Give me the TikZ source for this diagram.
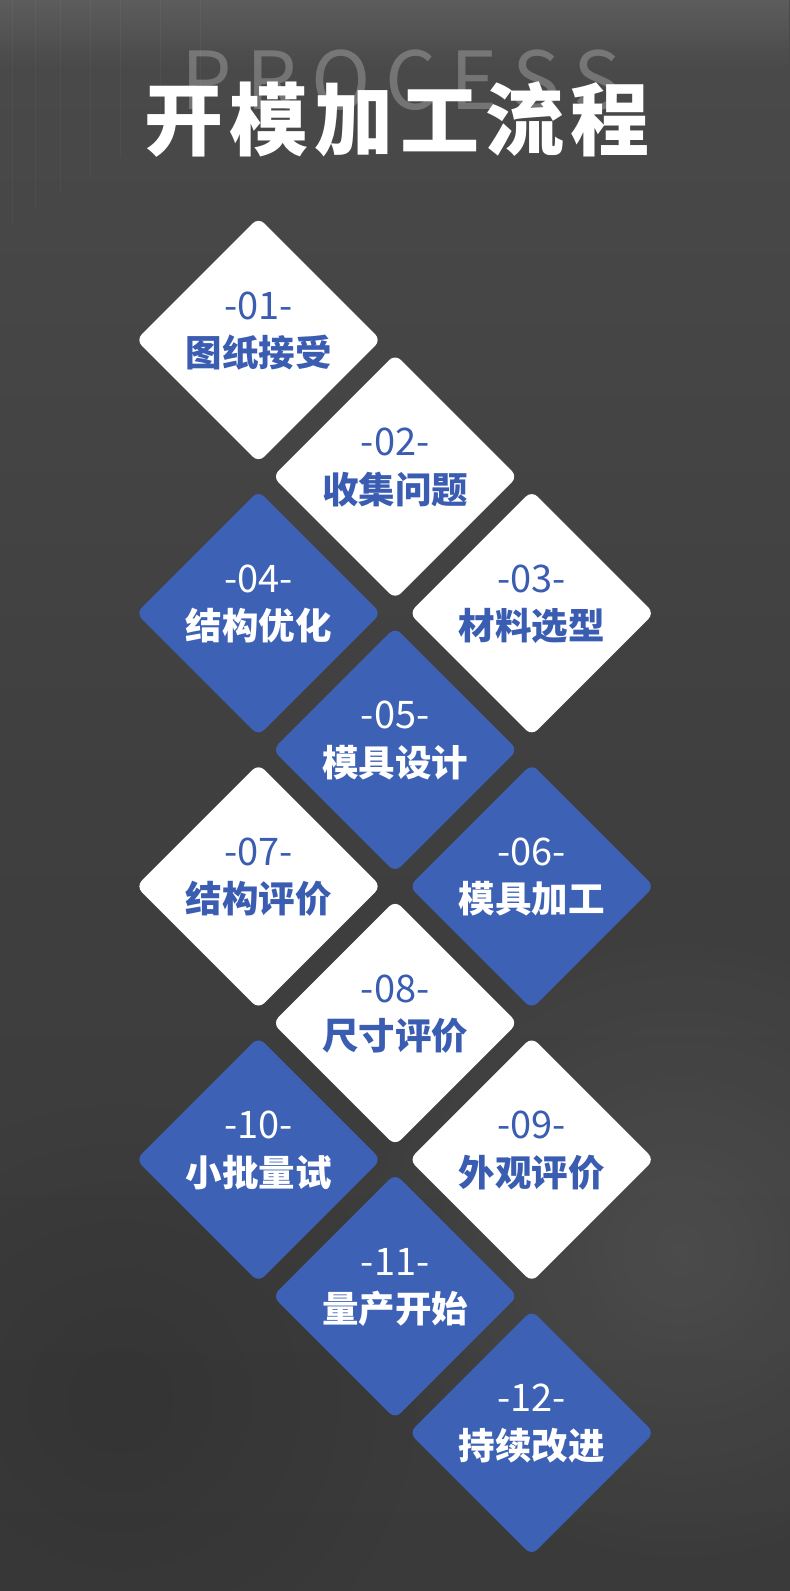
\documentclass[tikz,border=0pt]{standalone}
\usepackage{fontspec}
\newfontfamily\cjk{Noto Sans CJK SC}
\newfontfamily\cjkls[LetterSpace=8]{Noto Sans CJK SC}
\newfontfamily\procfont[LetterSpace=18]{Noto Sans CJK SC}
\usetikzlibrary{shapes.geometric,fadings}
\tikzfading[name=glowfade, inner color=transparent!0, outer color=transparent!100]
\definecolor{blueA}{HTML}{3D62B5}
\definecolor{blueT}{HTML}{3A5DB2}
\definecolor{bgT}{HTML}{4A4A4A}
\definecolor{bgM}{HTML}{3F3F3F}
\definecolor{bgB}{HTML}{3A3A3A}
\tikzset{
  dia/.style={diamond, aspect=1, minimum width=245pt, minimum height=245pt,
    inner sep=0pt, rounded corners=8pt, draw=none},
  numtxt/.style={anchor=base, inner sep=0pt, font=\cjk\fontsize{38}{38}\selectfont},
  labtxt/.style={anchor=base, inner sep=0pt, font=\cjk\bfseries\fontsize{36.5}{36.5}\selectfont},
}
\begin{document}
\begin{tikzpicture}[x=1pt,y=-1pt]
\useasboundingbox (0,0) rectangle (790,1591);
% background
\fill[top color=bgT, bottom color=bgB, middle color=bgM] (0,0) rectangle (790,1591);
\fill[white, opacity=0.08, path fading=glowfade] (680,1250) circle (330);
\fill[black, opacity=0.12, path fading=glowfade] (120,1400) circle (300);
\fill[white, opacity=0.10, path fading=south] (0,0) rectangle (790,70);
\foreach \vx in {12,35,60,90,120,160,200}{
  \draw[white, opacity=0.035, line width=1pt] (\vx,0) -- (\vx,{230-\vx*0.6});
}
% watermark and title
\node[anchor=base, inner sep=0pt, text=white, text opacity=0.24,
  font=\procfont\fontsize{80}{80}\selectfont] (proc) at (401,109) {PROCESS};
\node[anchor=base, inner sep=0pt, text=white,
  font=\cjkls\bfseries\fontsize{79}{79}\selectfont] (title) at (397,149) {开模加工流程};
% diamonds
\foreach \id/\c/\r/\fc/\tc/\lab in {
  01/0/0/white/blueT/图纸接受,
  02/1/1/white/blueT/收集问题,
  03/2/2/white/blueT/材料选型,
  04/0/2/blueA/white/结构优化,
  05/1/3/blueA/white/模具设计,
  06/2/4/blueA/white/模具加工,
  07/0/4/white/blueT/结构评价,
  08/1/5/white/blueT/尺寸评价,
  09/2/6/white/blueT/外观评价,
  10/0/6/blueA/white/小批量试,
  11/1/7/blueA/white/量产开始,
  12/2/8/blueA/white/持续改进}{
  \pgfmathsetmacro{\cx}{258.5+\c*136.6}
  \pgfmathsetmacro{\cy}{340+\r*136.6}
  \node[dia, fill=\fc] (d\id) at (\cx,\cy) {};
  \node[numtxt, text=\tc] (n\id) at (\cx,\cy-21) {-\id-};
  \node[labtxt, text=\tc] (t\id) at (\cx,\cy+26.5) {\lab};
}
\end{tikzpicture}
\end{document}
